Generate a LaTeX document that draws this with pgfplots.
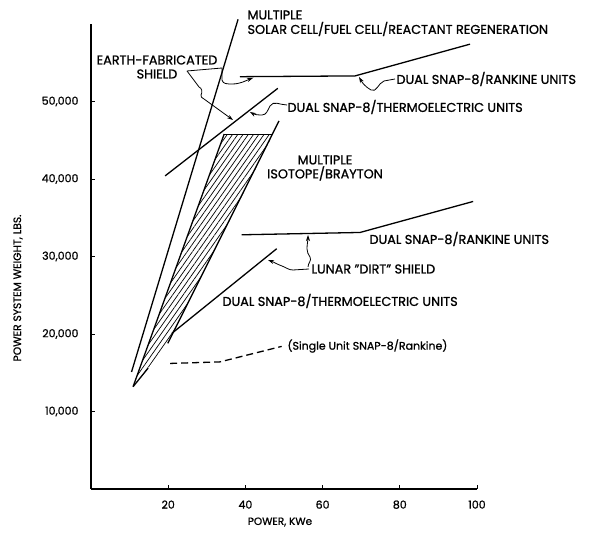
\documentclass[border=0pt]{standalone}
\usepackage{fontspec}
\setmainfont{Poppins}[FakeBold=1.0]
\usepackage{pgfplots}
\pgfplotsset{compat=1.18}
\usetikzlibrary{patterns.meta,arrows.meta}

\newcommand\capsz{\fontsize{12.8}{14}\selectfont}
\newcommand\smsz{\fontsize{11}{13}\selectfont}

\begin{document}
\begin{tikzpicture}
\path[use as bounding box] (0,0) rectangle (600pt,534pt);
\begin{axis}[
  at={(91pt,45pt)}, anchor=south west,
  scale only axis, width=386pt, height=465pt,
  xmin=0, xmax=100, ymin=0, ymax=60000,
  axis lines=left, axis line style={-, line width=1.1pt},
  xtick={20,40,60,80,100}, ytick={10000,20000,30000,40000,50000},
  tick align=inside, major tick length=4pt, tick style={line width=0.9pt, black},
  scaled y ticks=false,
  /pgf/number format/assume math mode=true,
  yticklabel style={/pgf/number format/1000 sep={,}, font=\smsz, xshift=-9pt},
  xticklabel style={font=\smsz, yshift=-8pt},
  clip=false,
]
% multiple isotope/Brayton band
\addplot[draw=none, pattern={Lines[angle=55, distance=4.3pt, line width=0.7pt]}]
  coordinates {(10.9,13200) (34.5,45800) (47.2,45800) (19.9,18800) (14.8,15600) (10.9,13200)};
\addplot[line width=1.3pt] coordinates {(10.9,13200) (34.5,45800)};
\addplot[line width=1.3pt] coordinates {(19.9,18800) (48.7,47500)};
\addplot[line width=0.6pt] coordinates {(34.5,45800) (47.2,45800)};
\addplot[line width=1.3pt] coordinates {(10.9,13200) (14.8,15600)};
% multiple solar cell / fuel cell / reactant regeneration
\addplot[line width=1.3pt] coordinates {(10.5,15100) (38.1,60600)};
% dual SNAP-8 / thermoelectric, earth-fabricated shield
\addplot[line width=1.3pt] coordinates {(19.2,40400) (48.4,51700)};
% dual SNAP-8 / Rankine, earth-fabricated shield
\addplot[line width=1.3pt] coordinates {(38.6,53200) (68.4,53300) (98.2,57400)};
% dual SNAP-8 / Rankine, lunar dirt shield
\addplot[line width=1.3pt] coordinates {(39.0,32800) (69.7,33100) (99.0,37100)};
% dual SNAP-8 / thermoelectric, lunar dirt shield
\addplot[line width=1.3pt] coordinates {(21.0,20100) (48.1,31000)};
% single unit SNAP-8 / Rankine
\addplot[line width=1.3pt, dash pattern=on 7pt off 4pt] coordinates {(20.5,16200) (33.4,16400) (49.4,18400)};
\end{axis}

\begin{scope}[x=1pt, y=-1pt, shift={(0pt,534pt)}, font=\capsz]
  \node[anchor=west] at (244,15) {MULTIPLE};
  \node[anchor=west] at (244,29) {SOLAR CELL/FUEL CELL/REACTANT REGENERATION};
  \node[align=center, inner sep=0pt] at (157,67) {EARTH-FABRICATED\\SHIELD};
  \node[anchor=west] at (393,79) {DUAL SNAP-8/RANKINE UNITS};
  \node[anchor=west] at (284,107) {DUAL SNAP-8/THERMOELECTRIC UNITS};
  \node[align=center, inner sep=0pt] at (325,168) {MULTIPLE\\ISOTOPE/BRAYTON};
  \node[anchor=west] at (366,239) {DUAL SNAP-8/RANKINE UNITS};
  \node[anchor=west] at (308,269) {LUNAR "DIRT" SHIELD};
  \node[anchor=west] at (219,301) {DUAL SNAP-8/THERMOELECTRIC UNITS};
  \node[anchor=west, font=\smsz] at (284,346) {(Single Unit SNAP-8/Rankine)};
  \node[rotate=90, font=\fontsize{10.7}{12}\selectfont] at (18,288) {POWER SYSTEM WEIGHT, LBS.};
  \node[font=\fontsize{10.5}{12}\selectfont] at (280,522) {POWER, KWe};
  % leader arrows
  \begin{scope}[line width=0.8pt, -{Stealth[length=6pt,width=4pt]}]
    \draw (187,71) -- (222,68) -- (222,80) to[out=-80,in=180] (232,84) to[out=0,in=200] (253,78);
    \draw (187,71) -- (199,87) to[out=-20,in=60] (201,95) to[out=-120,in=150] (204,99) -- (233,120);
    \draw (287,105) to[out=180,in=60] (270,106) to[out=-120,in=0] (262,115) to[out=180,in=-30] (250,112);
    \draw (395,79) -- (384,81) to[out=200,in=-30] (371,90) to[out=150,in=-60] (359,77);
    \draw (309,269) -- (293,270) to[out=180,in=-20] (282,266) to[out=160,in=-20] (268,260);
    \draw (308,267) to[out=90,in=-60] (310,257) to[out=120,in=-90] (307,249) to[out=90,in=-90] (308,235);
  \end{scope}
\end{scope}
\end{tikzpicture}
\end{document}
